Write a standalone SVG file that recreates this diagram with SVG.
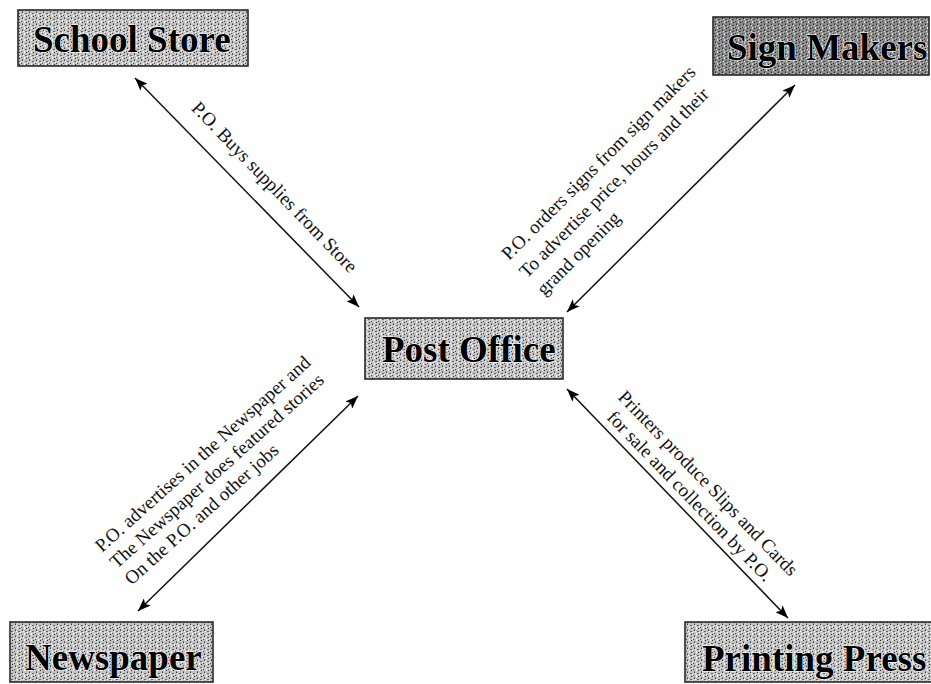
<svg xmlns="http://www.w3.org/2000/svg" width="931" height="684" viewBox="0 0 931 684">
<style>
.box{stroke:#2a2a2a;stroke-width:1.6}
.title{font-family:"Liberation Serif","Times New Roman",serif;font-weight:bold;font-size:37px;fill:#000;stroke:#fff;stroke-width:1.2;paint-order:stroke}
.lbl{font-family:"Liberation Serif","Times New Roman",serif;font-size:19px;fill:#111}
.conn{stroke:#111;stroke-width:1.5;fill:none;marker-start:url(#ah);marker-end:url(#ah)}
</style>
<defs>
<marker id="ah" markerUnits="userSpaceOnUse" markerWidth="13" markerHeight="10" refX="13" refY="5" orient="auto-start-reverse">
<path d="M0,0 L13,5 L0,10 L3,5 z" fill="#000"/>
</marker>
<pattern id="lt" width="7" height="6" patternUnits="userSpaceOnUse">
<rect width="7" height="6" fill="#c4c4c4"/>
<rect x="1" y="0" width="1" height="1" fill="#3a3a3a"/>
<rect x="4" y="1" width="2" height="1" fill="#666"/>
<rect x="0" y="3" width="1" height="1" fill="#4a4a4a"/>
<rect x="3" y="3" width="1" height="2" fill="#fff"/>
<rect x="5" y="4" width="1" height="1" fill="#2a2a2a"/>
<rect x="2" y="1" width="1" height="1" fill="#fff"/>
<rect x="6" y="2" width="1" height="1" fill="#fff"/>
<rect x="1" y="5" width="1" height="1" fill="#777"/>
</pattern>
<pattern id="dk" width="7" height="6" patternUnits="userSpaceOnUse">
<rect width="7" height="6" fill="#8c8c8c"/>
<rect x="1" y="0" width="1" height="1" fill="#2a2a2a"/>
<rect x="4" y="1" width="2" height="1" fill="#444"/>
<rect x="0" y="3" width="1" height="1" fill="#333"/>
<rect x="3" y="3" width="1" height="2" fill="#ddd"/>
<rect x="5" y="4" width="1" height="1" fill="#1a1a1a"/>
<rect x="2" y="1" width="1" height="1" fill="#e0e0e0"/>
<rect x="6" y="2" width="1" height="1" fill="#bbb"/>
<rect x="1" y="5" width="1" height="1" fill="#555"/>
</pattern>
</defs>
<rect width="931" height="684" fill="#fff"/>

<g id="school-store">
<rect class="box" x="18" y="10" width="230" height="56" fill="url(#lt)"/>
<text class="title" x="33" y="52">School Store</text>
</g>
<g id="sign-makers">
<rect class="box" x="713" y="17" width="216" height="58" fill="url(#dk)"/>
<text class="title" x="727" y="60">Sign Makers</text>
</g>
<g id="post-office">
<rect class="box" x="365" y="318" width="198" height="61" fill="url(#lt)"/>
<text class="title" x="382" y="362">Post Office</text>
</g>
<g id="newspaper">
<rect class="box" x="10" y="622" width="203" height="60" fill="url(#lt)"/>
<text class="title" x="25" y="670">Newspaper</text>
</g>
<g id="printing-press">
<rect class="box" x="685" y="622" width="250" height="60" fill="url(#lt)"/>
<text class="title" x="702" y="671">Printing Press</text>
</g>

<g id="connectors">
<line class="conn" x1="135" y1="78" x2="359" y2="307"/>
<line class="conn" x1="567" y1="312" x2="795" y2="85"/>
<line class="conn" x1="138" y1="611" x2="358" y2="396"/>
<line class="conn" x1="567" y1="389" x2="788" y2="618"/>
</g>

<g id="labels">
<text class="lbl" transform="translate(190.5,109) rotate(46)">P.O. Buys supplies from Store</text>
<text class="lbl" transform="translate(509,261) rotate(-45)"><tspan x="0" y="0">P.O. orders signs from sign makers</tspan><tspan x="0" y="25">To advertise price, hours and their</tspan><tspan x="0" y="50">grand opening</tspan></text>
<text class="lbl" transform="translate(102,553) rotate(-42)"><tspan x="0" y="0">P.O. advertises in the Newspaper and</tspan><tspan x="0" y="22">The Newspaper does featured stories</tspan><tspan x="0" y="44">On the P.O. and other jobs</tspan></text>
<text class="lbl" transform="translate(617,398) rotate(46)"><tspan x="0" y="0">Printers produce Slips and Cards</tspan><tspan x="7" y="22">for sale and collection by P.O.</tspan></text>
</g>
</svg>
